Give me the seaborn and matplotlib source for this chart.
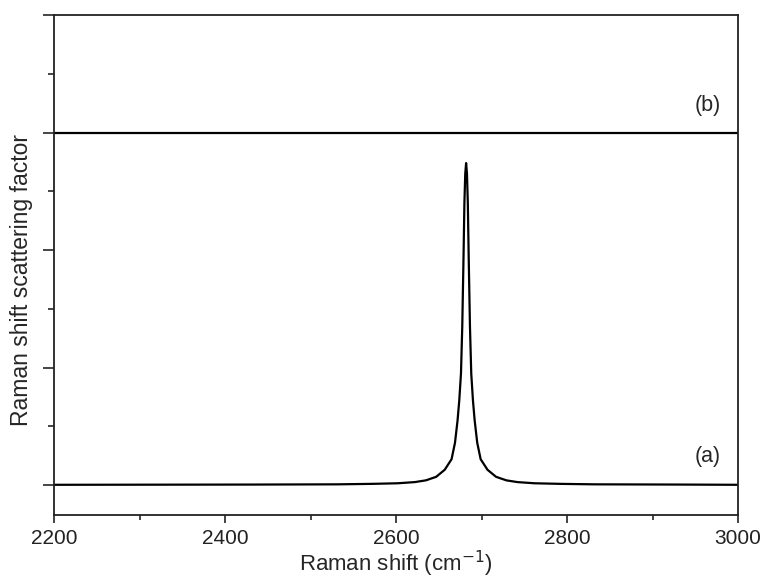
import numpy as np
import pandas as pd
import matplotlib
matplotlib.use("Agg")
import matplotlib.pyplot as plt
from matplotlib.ticker import MultipleLocator, NullFormatter
import seaborn as sns

# curve (a): Raman spectrum (peak near 2682 cm-1)
shift_a = [2200, 2432, 2532, 2572, 2602, 2622, 2635, 2647, 2657, 2665, 2669,
           2672, 2674, 2676, 2677.5, 2679, 2680, 2681, 2682, 2683, 2684,
           2685, 2686.5, 2688, 2690, 2692, 2695, 2699, 2707, 2717, 2729,
           2742, 2762, 2792, 2832, 2932, 3000]
factor_a = [0.002, 0.004, 0.006, 0.01, 0.015, 0.025, 0.04, 0.07, 0.13, 0.22, 0.36,
            0.55, 0.72, 0.95, 1.35, 1.95, 2.40, 2.65, 2.74, 2.65, 2.40,
            1.95, 1.35, 0.95, 0.72, 0.55, 0.36, 0.22, 0.13, 0.07, 0.04,
            0.025, 0.015, 0.01, 0.006, 0.004, 0.002]

# curve (b): flat, offset by 3
shift_b = [2200, 3000]
factor_b = [3.0, 3.0]

labels = ["(a)", "(b)"]

df_a = pd.DataFrame({"shift": shift_a, "factor": factor_a})
df_b = pd.DataFrame({"shift": shift_b, "factor": factor_b})

sns.set_style("ticks")
plt.rcParams['font.family'] = ['Liberation Sans', 'DejaVu Sans']

fig = plt.figure(figsize=(7.64, 5.84), dpi=100)
ax = fig.add_axes([54 / 764, 1 - 515 / 584, 684 / 764, 500 / 584])

sns.lineplot(data=df_a, x="shift", y="factor", color="black", linewidth=1.6, ax=ax)
sns.lineplot(data=df_b, x="shift", y="factor", color="black", linewidth=1.6, ax=ax)

ax.set_xlim(2200, 3000)
ax.set_ylim(-0.255, 4.0)

ax.xaxis.set_major_locator(MultipleLocator(200))
ax.xaxis.set_minor_locator(MultipleLocator(100))
ax.yaxis.set_major_locator(MultipleLocator(1))
ax.yaxis.set_minor_locator(MultipleLocator(0.5))
ax.yaxis.set_major_formatter(NullFormatter())

ax.tick_params(axis="x", which="major", direction="out", length=6, width=1.2, labelsize=15,
               colors="#222222", pad=4)
ax.tick_params(axis="x", which="minor", direction="out", length=3.5, width=1.2)
ax.tick_params(axis="y", which="major", direction="out", length=8, width=1.2)
ax.tick_params(axis="y", which="minor", direction="out", length=4, width=1.2)

for s in ax.spines.values():
    s.set_linewidth(1.3)
    s.set_color("#222222")

ax.set_xlabel("Raman shift (cm$^{-1}$)", fontsize=16, labelpad=1)
ax.set_ylabel("Raman shift scattering factor", fontsize=16.5)
ax.yaxis.set_label_coords(-0.031, 0.47)

ax.text(2965, 0.24, labels[0], fontsize=15.5, ha="center", va="center")
ax.text(2965, 3.23, labels[1], fontsize=15.5, ha="center", va="center")

fig.savefig("out.png", dpi=100)
